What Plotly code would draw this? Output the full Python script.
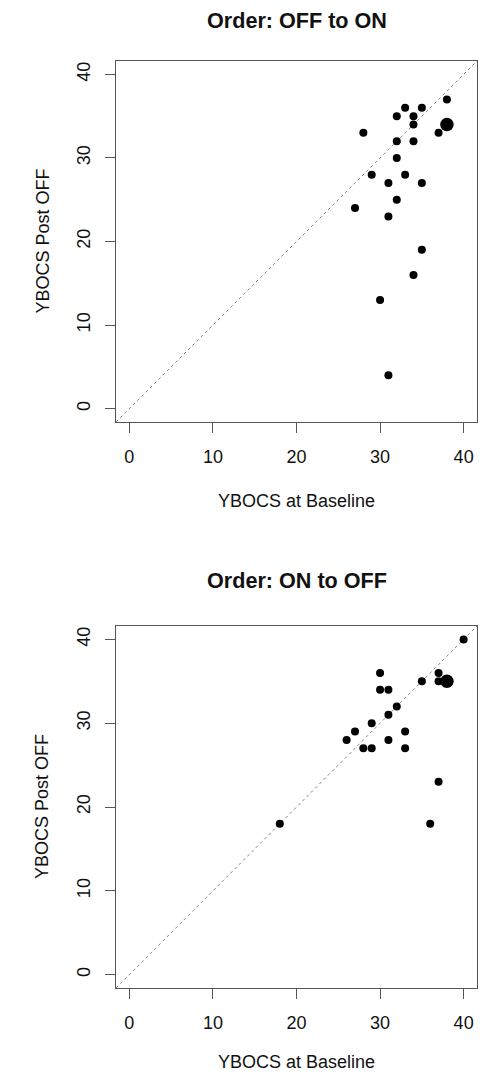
import plotly.graph_objects as go

# ---- data ----
titles = ["Order: OFF to ON", "Order: ON to OFF"]
x_label = "YBOCS at Baseline"
y_label = "YBOCS Post OFF"
tick_vals = [0, 10, 20, 30, 40]
tick_text = ["0", "10", "20", "30", "40"]
axis_range = [-1.6, 41.6]

off_on_baseline = [38, 33, 35, 32, 34, 34, 38, 28, 37, 32, 34, 32, 29, 33, 31, 35, 32, 27, 31, 35, 34, 30, 31]
off_on_post = [37, 36, 36, 35, 35, 34, 34, 33, 33, 32, 32, 30, 28, 28, 27, 27, 25, 24, 23, 19, 16, 13, 4]
off_on_count = [1, 1, 1, 1, 1, 1, 2, 1, 1, 1, 1, 1, 1, 1, 1, 1, 1, 1, 1, 1, 1, 1, 1]

on_off_baseline = [40, 30, 37, 35, 37, 38, 30, 31, 32, 31, 29, 27, 33, 26, 31, 28, 29, 33, 37, 18, 36]
on_off_post = [40, 36, 36, 35, 35, 35, 34, 34, 32, 31, 30, 29, 29, 28, 28, 27, 27, 27, 23, 18, 18]
on_off_count = [1, 1, 1, 1, 1, 2, 1, 1, 1, 1, 1, 1, 1, 1, 1, 1, 1, 1, 1, 1, 1]

# ---- layout helpers (page body has an 8px margin) ----
OFF = 8
W, H = 502 - OFF, 1075 - OFF
def fx(px):
    return (px - OFF) / W
def fy(py):
    return 1 - (py - OFF) / H

FONT = "Liberation Sans, Arial, Helvetica, sans-serif"
TXT = "#111111"
LINE = "#555555"

def size_of(counts):
    return [8 if c == 1 else 13.5 for c in counts]

fig = go.Figure()
fig.add_trace(go.Scatter(x=off_on_baseline, y=off_on_post, mode="markers",
                         marker=dict(color="black", opacity=1, size=size_of(off_on_count), line=dict(width=0)),
                         xaxis="x", yaxis="y", showlegend=False, hoverinfo="x+y"))
fig.add_trace(go.Scatter(x=on_off_baseline, y=on_off_post, mode="markers",
                         marker=dict(color="black", opacity=1, size=size_of(on_off_count), line=dict(width=0)),
                         xaxis="x2", yaxis="y2", showlegend=False, hoverinfo="x+y"))

common = dict(range=axis_range, tickvals=tick_vals, ticktext=tick_text,
              showline=True, mirror=True, linecolor=LINE, linewidth=1.3,
              ticks="outside", ticklen=10, tickcolor=LINE, tickwidth=1.3,
              showgrid=False, zeroline=False, fixedrange=True,
              tickfont=dict(family=FONT, size=18, color=TXT))

xd = [fx(116), fx(477)]
fig.update_layout(
    width=W, height=H,
    margin=dict(l=0, r=0, t=0, b=0),
    paper_bgcolor="white", plot_bgcolor="white",
    xaxis=dict(domain=xd, anchor="y", ticklabelstandoff=8, **common),
    yaxis=dict(domain=[fy(422), fy(61)], anchor="x", tickangle=-90, ticklabelstandoff=8, **common),
    xaxis2=dict(domain=xd, anchor="y2", ticklabelstandoff=8, **common),
    yaxis2=dict(domain=[fy(988), fy(626)], anchor="x2", tickangle=-90, ticklabelstandoff=8, **common),
)

# identity reference lines (dotted, grey)
for xr, yr in (("x", "y"), ("x2", "y2")):
    fig.add_shape(type="line", xref=xr, yref=yr,
                  x0=axis_range[0], y0=axis_range[0], x1=axis_range[1], y1=axis_range[1],
                  line=dict(color="#888888", width=1, dash="dot"), layer="below")

xc = fx((116 + 477) / 2)
ann = []
for title, ty, xy, yy in ((titles[0], 20.5, 500.5, 241.5), (titles[1], 580, 1062, 807)):
    ann.append(dict(text="<b>%s</b>" % title, x=xc, y=fy(ty), xref="paper", yref="paper",
                    showarrow=False, xanchor="center", yanchor="middle",
                    font=dict(family=FONT, size=21.6, color=TXT)))
    ann.append(dict(text=x_label, x=xc, y=fy(xy), xref="paper", yref="paper",
                    showarrow=False, xanchor="center", yanchor="middle",
                    font=dict(family=FONT, size=18, color=TXT)))
    ann.append(dict(text=y_label, x=fx(42), y=fy(yy), xref="paper", yref="paper",
                    showarrow=False, xanchor="center", yanchor="middle", textangle=-90,
                    font=dict(family=FONT, size=18, color=TXT)))
fig.update_layout(annotations=ann)

fig.write_html("out.html")
